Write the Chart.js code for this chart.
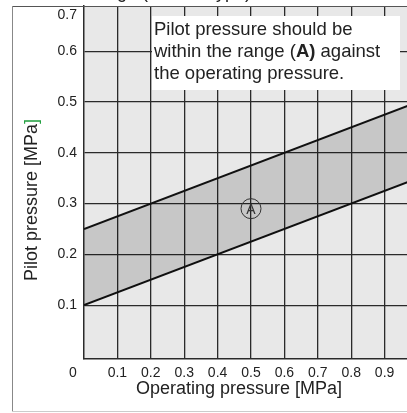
<!DOCTYPE html>
<html>
<head>
<meta charset="utf-8">
<script src="https://cdn.jsdelivr.net/npm/chart.js@4.4.1/dist/chart.umd.min.js"></script>
<style>
  html, body { margin: 0; padding: 0; background: #fff; overflow: hidden; }
  #chart { display: block; }
</style>
</head>
<body>
<canvas id="chart" width="440" height="413"></canvas>
<script>
// Data
const operatingPressure = [0, 1.0];
const pilotUpper = [0.25, 0.5];
const pilotLower = [0.1, 0.35];

const xTickValues = [0, 0.1, 0.2, 0.3, 0.4, 0.5, 0.6, 0.7, 0.8, 0.9, 1.0];
const xTickLabels = ['0', '0.1', '0.2', '0.3', '0.4', '0.5', '0.6', '0.7', '0.8', '0.9', '1'];
const yTickValues = [0.1, 0.2, 0.3, 0.4, 0.5, 0.6, 0.7];
const yTickLabels = ['0.1', '0.2', '0.3', '0.4', '0.5', '0.6', '0.7'];

const markA = { x: 0.5, y: 0.29, label: 'A' };

const fontFamily = '"Liberation Sans", Arial, sans-serif';
const textColor = '#222';
const gridColor = '#2a2a2a';

const upperPoints = operatingPressure.map((x, i) => ({ x: x, y: pilotUpper[i] }));
const lowerPoints = operatingPressure.map((x, i) => ({ x: x, y: pilotLower[i] }));

// background, note box, circled A, titles and frame
const decorations = {
  id: 'decorations',
  beforeDraw(chart) {
    const ctx = chart.ctx, a = chart.chartArea;
    ctx.save();
    ctx.fillStyle = '#fff';
    ctx.fillRect(0, 0, chart.width, chart.height);
    ctx.fillStyle = '#e8e8e8';
    ctx.fillRect(a.left, a.top, a.right - a.left, a.bottom - a.top);
    ctx.restore();
  },
  afterDraw(chart) {
    const ctx = chart.ctx, a = chart.chartArea;
    const xs = chart.scales.x, ys = chart.scales.y;
    ctx.save();

    // cropped title above the frame, only descenders show
    ctx.fillStyle = textColor;
    ctx.font = '18px ' + fontFamily;
    ctx.textBaseline = 'alphabetic';
    ctx.textAlign = 'left';
    const head = 'Pilot Pressure ran';
    ctx.fillText('Pilot Pressure range (Normal type)', 117 - ctx.measureText(head).width, -2);

    // note box
    ctx.fillStyle = '#fff';
    ctx.fillRect(152, 16, 248, 74);
    ctx.fillStyle = textColor;
    ctx.font = '18.5px ' + fontFamily;
    ctx.textBaseline = 'middle';
    ctx.fillText('Pilot pressure should be', 154, 30);
    let x = 154;
    const parts = [['within the range (', false], ['A)', true], [' against', false]];
    parts.forEach(p => {
      ctx.font = (p[1] ? 'bold ' : '') + '18.5px ' + fontFamily;
      ctx.fillText(p[0], x, 52);
      x += ctx.measureText(p[0]).width;
    });
    ctx.font = '18.5px ' + fontFamily;
    ctx.fillText('the operating pressure.', 154, 74);

    // circled A
    const cx = xs.getPixelForValue(markA.x), cy = ys.getPixelForValue(markA.y);
    ctx.strokeStyle = '#333';
    ctx.lineWidth = 1;
    ctx.beginPath();
    ctx.arc(cx, cy, 10, 0, Math.PI * 2);
    ctx.stroke();
    ctx.fillStyle = '#333';
    ctx.font = '14px ' + fontFamily;
    ctx.textAlign = 'center';
    ctx.fillText(markA.label, cx, cy + 1);

    // axis titles
    ctx.fillStyle = textColor;
    ctx.font = '18px ' + fontFamily;
    ctx.textAlign = 'center';
    ctx.fillText('Operating pressure [MPa]', 239, 389);

    ctx.translate(32, 200);
    ctx.rotate(-Math.PI / 2);
    const yt = 'Pilot pressure [MPa', yb = ']';
    const w1 = ctx.measureText(yt).width, w2 = ctx.measureText(yb).width;
    ctx.textAlign = 'left';
    ctx.fillText(yt, -(w1 + w2) / 2, 0);
    ctx.fillStyle = '#22a040';
    ctx.fillText(yb, -(w1 + w2) / 2 + w1, 0);
    ctx.setTransform(1, 0, 0, 1, 0, 0);

    // frame
    ctx.lineWidth = 1;
    ctx.strokeStyle = '#555';
    ctx.beginPath();
    ctx.moveTo(12, a.top + 0.5);
    ctx.lineTo(chart.width, a.top + 0.5);
    ctx.stroke();
    ctx.strokeStyle = '#888';
    ctx.beginPath();
    ctx.moveTo(12.5, a.top);
    ctx.lineTo(12.5, 412);
    ctx.stroke();
    ctx.strokeStyle = '#ccc';
    ctx.beginPath();
    ctx.moveTo(12, 411.5);
    ctx.lineTo(chart.width, 411.5);
    ctx.stroke();
    ctx.restore();
  }
};

const chart = new Chart(document.getElementById('chart'), {
  type: 'line',
  data: {
    datasets: [
      {
        data: upperPoints,
        borderColor: '#111',
        borderWidth: 2,
        pointRadius: 0,
        fill: '+1',
        backgroundColor: 'rgba(0,0,0,0.14)'
      },
      {
        data: lowerPoints,
        borderColor: '#111',
        borderWidth: 2,
        pointRadius: 0,
        fill: false
      }
    ]
  },
  options: {
    responsive: false,
    animation: false,
    layout: { padding: { top: 6, right: 22, left: 0, bottom: 0 } },
    plugins: {
      legend: { display: false },
      tooltip: { enabled: false }
    },
    scales: {
      x: {
        type: 'linear',
        min: 0,
        max: 1.0,
        afterBuildTicks: axis => {
          // origin label sits left of the corner
          axis.ticks = xTickValues.map(v => ({ value: v === 0 ? -0.033 : v }));
        },
        afterFit: scale => {
          scale.height = 54;
          scale.paddingLeft = 0;
          scale.paddingRight = 0;
        },
        ticks: {
          autoSkip: false,
          maxRotation: 0,
          padding: 6,
          color: textColor,
          font: { family: fontFamily, size: 14 },
          callback: (value, index) => xTickLabels[index]
        },
        grid: {
          drawTicks: false,
          lineWidth: 1.3,
          color: ctx => (ctx.tick && ctx.tick.value < 0) ? 'transparent' : gridColor
        },
        border: { color: gridColor, width: 1.5 }
      },
      y: {
        type: 'linear',
        min: -0.006,
        max: 0.689,
        afterBuildTicks: axis => {
          // top label is pulled down inside the cropped frame
          axis.ticks = yTickValues.map(v => ({ value: v > 0.65 ? 0.671 : v }));
        },
        afterFit: scale => {
          scale.width = 84;
          scale.paddingTop = 0;
          scale.paddingBottom = 0;
        },
        ticks: {
          autoSkip: false,
          padding: 7,
          color: textColor,
          font: { family: fontFamily, size: 14 },
          callback: (value, index) => yTickLabels[index]
        },
        grid: {
          drawTicks: false,
          lineWidth: 1.3,
          color: ctx => (ctx.tick && ctx.tick.value > 0.65) ? 'transparent' : gridColor
        },
        border: { color: gridColor, width: 1.5 }
      }
    }
  },
  plugins: [decorations]
});
</script>
</body>
</html>
